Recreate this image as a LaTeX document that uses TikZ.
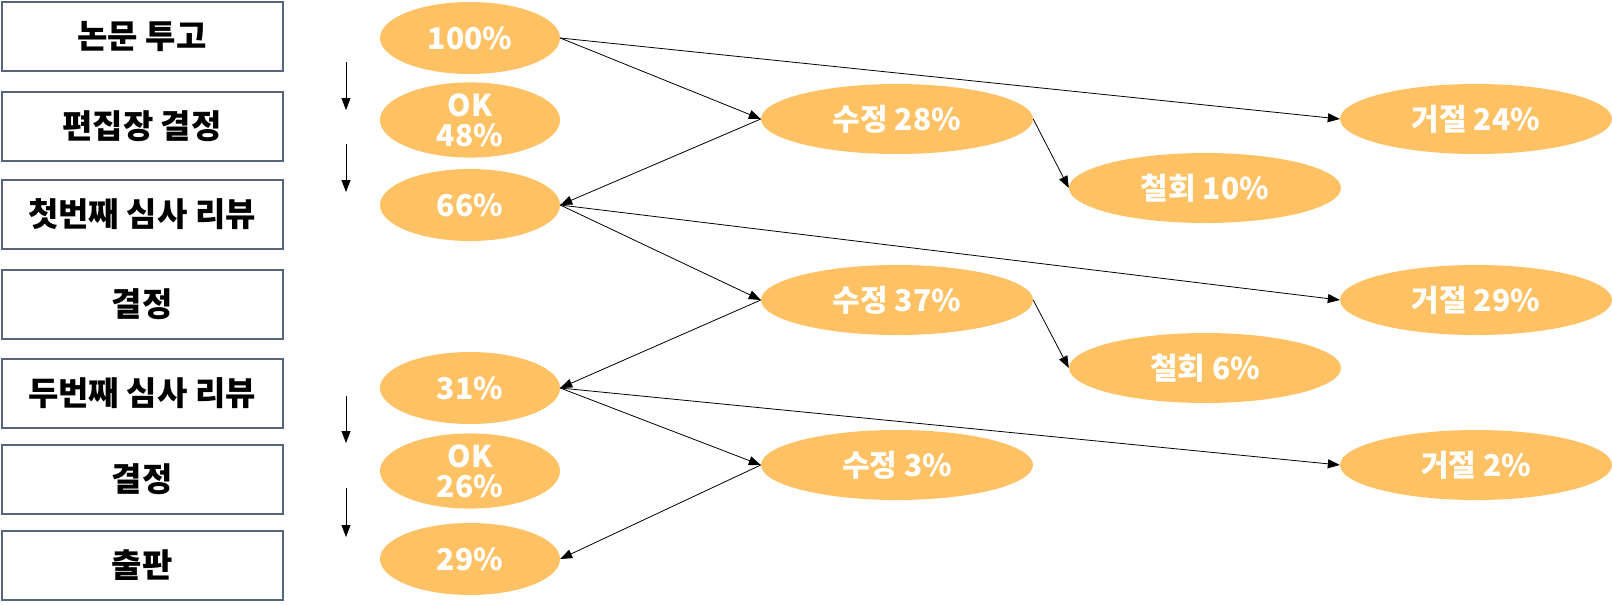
\documentclass[tikz,border=0pt]{standalone}
\usepackage{fontspec}
\newfontfamily\kr{Noto Sans CJK KR}
\usetikzlibrary{shapes.geometric,arrows.meta}
\definecolor{boxline}{HTML}{56667D}
\definecolor{ellfill}{HTML}{FEC265}
\tikzset{
  stagebox/.style={draw=boxline, line width=2pt, fill=white, minimum width=281pt, minimum height=69pt, inner sep=0pt, font=\kr\bfseries\fontsize{33}{36}\selectfont},
  pct/.style={ellipse, fill=ellfill, minimum width=180pt, minimum height=72pt, inner sep=0pt, text=white, align=center, font=\kr\bfseries\fontsize{30}{32}\selectfont},
  wide/.style={pct, minimum width=272pt, minimum height=70pt},
  conn/.style={-{Triangle[length=12pt,width=9pt]}, line width=0.8pt, black},
}
\begin{document}
\begin{tikzpicture}[x=1pt,y=-1pt]
\useasboundingbox (0,0) rectangle (1612,605);
% stage boxes
\node[stagebox] (s1) at (142,36.5) {논문 투고};
\node[stagebox] (s2) at (142,126) {편집장 결정};
\node[stagebox] (s3) at (142,214) {첫번째 심사 리뷰};
\node[stagebox] (s4) at (142,304) {결정};
\node[stagebox] (s5) at (142,393) {두번째 심사 리뷰};
\node[stagebox] (s6) at (142,479) {결정};
\node[stagebox] (s7) at (142,565) {출판};
% left ellipses
\node[pct] (p100) at (470,38) {100\%};
\node[pct] (ok48) at (470,120) {OK\\[-2pt]48\%};
\node[pct] (p66) at (470,205) {66\%};
\node[pct] (p31) at (470,388) {31\%};
\node[pct] (ok26) at (470,471) {OK\\[-2pt]26\%};
\node[pct] (p29) at (470,559) {29\%};
% middle and right ellipses
\node[wide] (r28) at (897,119) {수정 28\%};
\node[wide] (w10) at (1205,188) {철회 10\%};
\node[wide] (x24) at (1476,119) {거절 24\%};
\node[wide] (r37) at (897,300) {수정 37\%};
\node[wide] (w6) at (1205,368) {철회 6\%};
\node[wide] (x29) at (1476,300) {거절 29\%};
\node[wide] (r3) at (897,465) {수정 3\%};
\node[wide] (x2) at (1476,465) {거절 2\%};
% vertical arrows
\coordinate (v1a) at (346,62); \coordinate (v1b) at (346,110);
\coordinate (v2a) at (346,144); \coordinate (v2b) at (346,192);
\coordinate (v3a) at (346,396); \coordinate (v3b) at (346,443);
\coordinate (v4a) at (346,488); \coordinate (v4b) at (346,537);
\draw[conn] (v1a) -- (v1b);
\draw[conn] (v2a) -- (v2b);
\draw[conn] (v3a) -- (v3b);
\draw[conn] (v4a) -- (v4b);
% flow arrows
\draw[conn] (p100.east) -- (r28.west);
\draw[conn] (p100.east) -- (x24.west);
\draw[conn] (r28.west) -- (p66.east);
\draw[conn] (r28.east) -- (w10.west);
\draw[conn] (p66.east) -- (r37.west);
\draw[conn] (p66.east) -- (x29.west);
\draw[conn] (r37.west) -- (p31.east);
\draw[conn] (r37.east) -- (w6.west);
\draw[conn] (p31.east) -- (r3.west);
\draw[conn] (p31.east) -- (x2.west);
\draw[conn] (r3.west) -- (p29.east);
\end{tikzpicture}
\end{document}
